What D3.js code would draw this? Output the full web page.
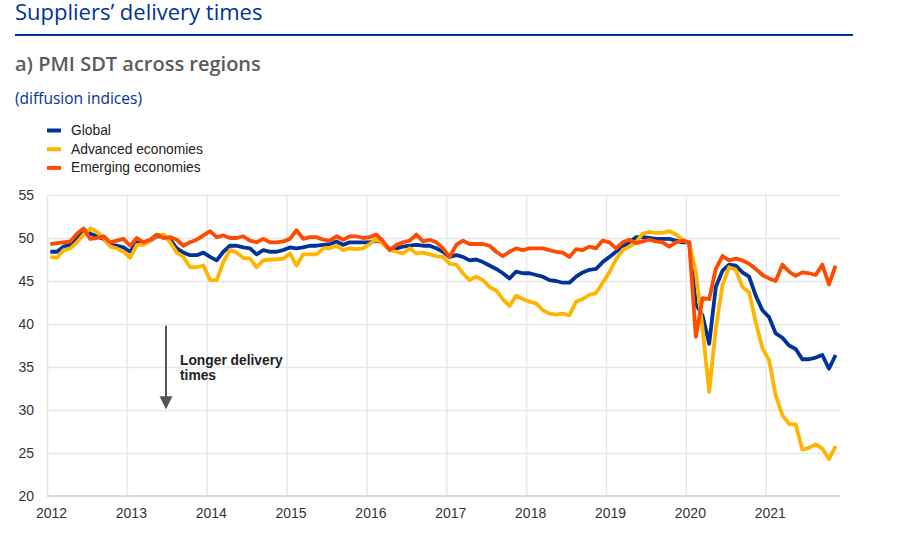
<!DOCTYPE html>
<html>
<head>
<meta charset="utf-8">
<script src="https://cdn.jsdelivr.net/npm/d3@7"></script>
<style>
  body { margin: 0; background: #fff; }
  svg { display: block; }
  .grid line { stroke: #e8e8e8; stroke-width: 1.5; }
  .grid path { display: none; }
  .axis path, .axis line { display: none; }
  .axis text { font-family: "Liberation Sans", Arial, sans-serif; font-size: 14px; fill: #333; }
</style>
</head>
<body>
<div id="chart"></div>
<script>
const WIDTH = 903;
const HEIGHT = 534;
const PLOT = {left: 47, right: 840, top: 195, bottom: 496};

const YEARS = [2012, 2013, 2014, 2015, 2016, 2017, 2018, 2019, 2020, 2021];
const Y_TICKS = [20, 25, 30, 35, 40, 45, 50, 55];
const SERIES_NAMES = ["Global", "Advanced economies", "Emerging economies"];
const COLOURS = ["#003299", "#ffb400", "#ff4b00"];

// monthly, Jan 2012 - Nov 2021
const GLOBAL = [
  48.4, 48.4, 49.0, 49.2, 50.1, 51.0, 50.5, 50.2, 49.9, 49.2, 49.1, 48.9,
  48.4, 49.5, 49.5, 49.7, 50.2, 50.2, 49.8, 48.8, 48.3, 48.0, 48.0, 48.3,
  47.8, 47.4, 48.4, 49.1, 49.1, 48.9, 48.8, 48.1, 48.6, 48.4, 48.4, 48.6,
  48.9, 48.8, 48.9, 49.1, 49.1, 49.2, 49.3, 49.6, 49.2, 49.5, 49.5, 49.5,
  49.5, 49.7, 49.5, 48.6, 48.8, 49.0, 49.1, 49.2, 49.1, 49.1, 48.8, 48.4,
  47.8, 48.0, 47.8, 47.4, 47.5, 47.2, 46.8, 46.4, 45.9, 45.3, 46.1, 45.9,
  45.9, 45.7, 45.5, 45.1, 45.0, 44.8, 44.8, 45.5, 46.0, 46.3, 46.4, 47.2,
  47.8, 48.4, 49.0, 49.5, 50.1, 50.1, 50.0, 49.9, 49.9, 49.9, 49.7, 49.5,
  49.5, 42.3, 41.0, 37.7, 44.3, 46.2, 46.9, 46.8, 46.0, 45.5, 43.3, 41.6,
  40.8, 38.9, 38.4, 37.5, 37.1, 35.9, 35.9, 36.1, 36.4, 34.8, 36.4
];
const ADVANCED = [
  47.8, 47.7, 48.6, 48.8, 49.5, 50.4, 51.1, 50.7, 50.0, 49.0, 48.8, 48.4,
  47.7, 49.2, 49.2, 49.7, 50.3, 50.4, 49.5, 48.3, 47.8, 46.6, 46.6, 46.8,
  45.1, 45.1, 47.2, 48.6, 48.3, 47.7, 47.6, 46.6, 47.4, 47.5, 47.5, 47.6,
  48.2, 46.8, 48.1, 48.1, 48.1, 48.8, 48.8, 49.1, 48.6, 48.8, 48.7, 48.8,
  49.3, 49.9, 49.3, 48.6, 48.4, 48.2, 48.8, 48.2, 48.3, 48.1, 47.9, 47.8,
  47.0, 46.9, 45.9, 45.1, 45.5, 45.1, 44.3, 43.9, 42.9, 42.1, 43.3, 42.9,
  42.6, 42.4, 41.6, 41.2, 41.1, 41.2, 41.0, 42.6, 42.9, 43.4, 43.6, 44.8,
  46.0, 47.5, 48.6, 49.0, 49.5, 50.5, 50.7, 50.6, 50.6, 50.8, 50.4, 49.8,
  49.4, 46.0, 39.5, 32.1, 39.5, 44.5, 46.6, 46.3, 44.3, 43.7, 40.2, 37.2,
  35.8, 31.7, 29.4, 28.4, 28.3, 25.4, 25.6, 26.0, 25.5, 24.3, 25.8
];
const EMERGING = [
  49.3, 49.4, 49.5, 49.6, 50.5, 51.1, 49.9, 50.0, 50.2, 49.5, 49.7, 49.9,
  49.1, 50.0, 49.5, 49.8, 50.4, 50.0, 50.1, 49.8, 49.1, 49.5, 49.8, 50.3,
  50.8, 50.1, 50.3, 50.0, 50.0, 50.2, 49.7, 49.5, 49.9, 49.5, 49.5, 49.6,
  49.9, 50.9, 49.9, 50.1, 50.1, 49.8, 49.7, 50.2, 49.8, 50.2, 50.2, 50.0,
  50.1, 50.4, 49.6, 48.6, 49.2, 49.5, 49.7, 50.4, 49.6, 49.8, 49.5, 48.8,
  47.8, 49.2, 49.7, 49.3, 49.3, 49.3, 49.1, 48.4, 47.9, 48.4, 48.8, 48.6,
  48.8, 48.8, 48.8, 48.6, 48.4, 48.3, 47.8, 48.7, 48.6, 49.0, 48.8, 49.7,
  49.5, 48.8, 49.5, 49.8, 49.4, 49.6, 49.8, 49.6, 49.5, 49.0, 49.5, 49.7,
  49.5, 38.5, 43.0, 42.9, 46.4, 47.9, 47.4, 47.6, 47.4, 47.0, 46.4, 45.7,
  45.3, 45.0, 46.9, 46.1, 45.6, 46.0, 45.9, 45.7, 46.9, 44.6, 46.8
];

const X_SCALE = d3.scaleLinear()
  .domain([2012, 2021.93])
  .range([PLOT.left, PLOT.right]);
const Y_SCALE = d3.scaleLinear()
  .domain([20, 55])
  .range([PLOT.bottom, PLOT.top]);

// month i sits in the middle of its month
const monthPos = (i) => 2012 + (i + 0.5) / 12;

const svg = d3.select("#chart")
  .append("svg")
    .attr("width", WIDTH)
    .attr("height", HEIGHT);

// headings
svg.append("text")
  .attr("x", 15).attr("y", 20)
  .style("font-family", "'Open Sans', sans-serif")
  .style("font-size", "22px")
  .style("fill", "#003299")
  .text("Suppliers\u2019 delivery times");

svg.append("line")
  .attr("x1", 15).attr("x2", 853)
  .attr("y1", 35).attr("y2", 35)
  .style("stroke", "#003299")
  .style("stroke-width", 2);

svg.append("text")
  .attr("x", 15).attr("y", 71)
  .style("font-family", "'Open Sans', sans-serif")
  .style("font-size", "20px")
  .style("font-weight", 600)
  .style("fill", "#5b5b5b")
  .text("a) PMI SDT across regions");

svg.append("text")
  .attr("x", 15).attr("y", 104)
  .style("font-family", "'Open Sans', sans-serif")
  .style("font-size", "15.5px")
  .style("fill", "#003299")
  .text("(diffusion indices)");

// legend
const legend = svg.append("g");
SERIES_NAMES.forEach((name, i) => {
  const y = 130.5 + i * 18.7;
  legend.append("line")
    .attr("x1", 47).attr("x2", 61)
    .attr("y1", y).attr("y2", y)
    .style("stroke", COLOURS[i])
    .style("stroke-width", 4);
  legend.append("text")
    .attr("x", 71).attr("y", y + 4.5)
    .style("font-family", "'Liberation Sans', Arial, sans-serif")
    .style("font-size", "13.8px")
    .style("fill", "#222")
    .text(name);
});

// gridlines
svg.append("g")
  .attr("class", "grid")
  .attr("transform", "translate(0," + PLOT.bottom + ")")
  .call(d3.axisBottom(X_SCALE).tickValues(YEARS)
    .tickSize(-(PLOT.bottom - PLOT.top)).tickFormat(""));

svg.append("g")
  .attr("class", "grid")
  .attr("transform", "translate(" + PLOT.left + ",0)")
  .call(d3.axisLeft(Y_SCALE).tickValues(Y_TICKS)
    .tickSize(-(PLOT.right - PLOT.left)).tickFormat(""));

svg.append("line")
  .attr("x1", PLOT.left).attr("x2", PLOT.right)
  .attr("y1", PLOT.bottom).attr("y2", PLOT.bottom)
  .style("stroke", "#d9d9d9")
  .style("stroke-width", 2);

// axes labels
svg.append("g")
  .attr("class", "axis")
  .attr("transform", "translate(0," + PLOT.bottom + ")")
  .call(d3.axisBottom(X_SCALE).tickValues(YEARS).tickSize(0)
    .tickPadding(12).tickFormat(d3.format("d")))
  .selectAll("text")
    .attr("dx", 4);

svg.append("g")
  .attr("class", "axis")
  .attr("transform", "translate(" + PLOT.left + ",0)")
  .call(d3.axisLeft(Y_SCALE).tickValues(Y_TICKS).tickSize(0).tickPadding(13));

// series lines
const line = d3.line()
  .x((d, i) => X_SCALE(monthPos(i)))
  .y((d) => Y_SCALE(d));

[GLOBAL, ADVANCED, EMERGING].forEach((data, i) => {
  svg.append("path")
    .datum(data)
    .attr("d", line)
    .style("fill", "none")
    .style("stroke", COLOURS[i])
    .style("stroke-width", 3.8)
    .style("stroke-linejoin", "round");
});

// annotation
const ax = X_SCALE(2013.49);
svg.append("line")
  .attr("x1", ax).attr("x2", ax)
  .attr("y1", Y_SCALE(39.8)).attr("y2", Y_SCALE(31.2))
  .style("stroke", "#555")
  .style("stroke-width", 2);
svg.append("path")
  .attr("d", "M" + (ax - 6.5) + "," + Y_SCALE(31.6) + "L" + (ax + 6.5) + "," + Y_SCALE(31.6) +
    "L" + ax + "," + Y_SCALE(30.1) + "Z")
  .style("fill", "#555");

const note = svg.append("text")
  .attr("x", 180).attr("y", 365)
  .style("font-family", "'Liberation Sans', Arial, sans-serif")
  .style("font-size", "13.8px")
  .style("font-weight", "bold")
  .style("fill", "#222");
note.append("tspan").attr("x", 180).text("Longer delivery");
note.append("tspan").attr("x", 180).attr("dy", 15).text("times");
</script>
</body>
</html>
